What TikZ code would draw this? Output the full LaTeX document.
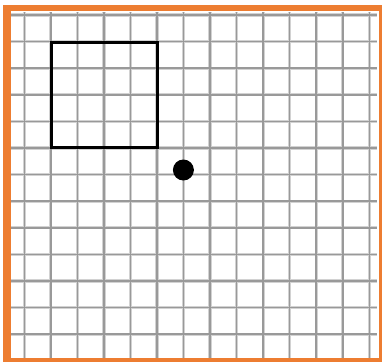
\documentclass[tikz,border=0pt]{standalone}
\definecolor{frameorange}{RGB}{237,125,49}
\tikzset{
  gridhalo/.style={gray!35,line width=3.2pt},
  gridline/.style={gray!80,line width=1.5pt},
  sq/.style={black,line width=3pt},
}
\begin{document}
\begin{tikzpicture}[x=1pt,y=-1pt]
\useasboundingbox (0,0) rectangle (382,362);
\fill[white] (0,0) rectangle (382,362);
% grid
\foreach \k in {0,...,13} {
  \draw[gridhalo] ({24.3+26.54*\k},12) -- ({24.3+26.54*\k},358);
}
\foreach \k in {0,...,12} {
  \draw[gridhalo] (11,{15+26.6*\k}) -- (377,{15+26.6*\k});
}
\foreach \k in {0,...,13} {
  \draw[gridline] ({24.3+26.54*\k},12) -- ({24.3+26.54*\k},358);
}
\foreach \k in {0,...,12} {
  \draw[gridline] (11,{15+26.6*\k}) -- (377,{15+26.6*\k});
}
% orange frame
\fill[frameorange] (3,5) rectangle (11,362);
\fill[frameorange] (3,5) rectangle (382,11);
\fill[frameorange] (378.5,5) rectangle (382,362);
\fill[frameorange] (3,357.5) rectangle (382,362);
% square
\draw[sq] (51.2,42.6) rectangle (157.6,147.5);
% dot
\node[circle,fill=black,inner sep=0pt,minimum size=21pt] (dot) at (183.4,170) {};
\end{tikzpicture}
\end{document}
